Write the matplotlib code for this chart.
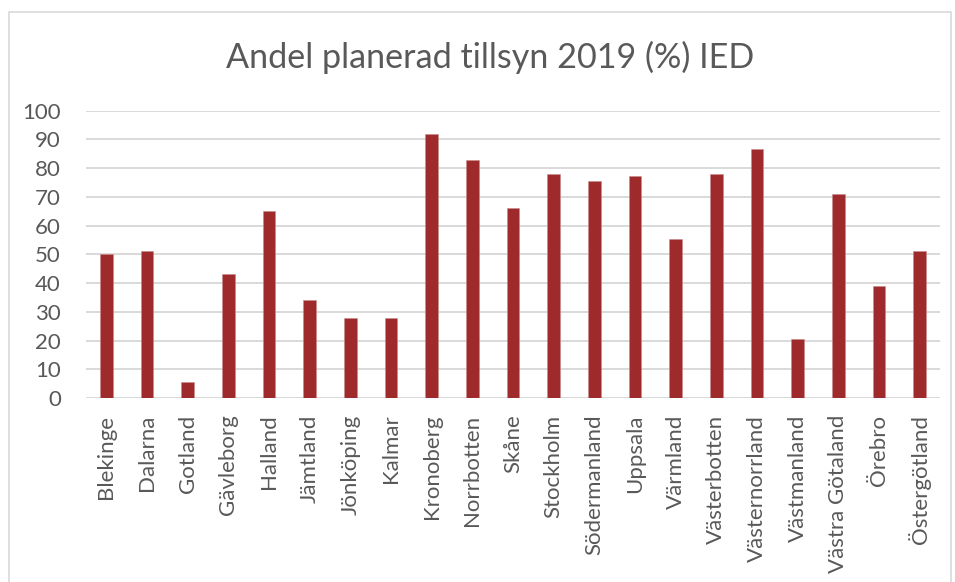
import matplotlib
matplotlib.use("Agg")
import matplotlib.pyplot as plt
from matplotlib.patches import Rectangle

categories = ["Blekinge", "Dalarna", "Gotland", "Gävleborg", "Halland", "Jämtland",
              "Jönköping", "Kalmar", "Kronoberg", "Norrbotten", "Skåne", "Stockholm",
              "Södermanland", "Uppsala", "Värmland", "Västerbotten", "Västernorrland",
              "Västmanland", "Västra Götaland", "Örebro", "Östergötland"]
values = [50, 51, 5.6, 43, 65.2, 34, 28, 28, 92, 83, 66, 77.8, 75.6, 77.1, 55.5,
          77.8, 86.8, 20.6, 71.1, 39.1, 51]
yticks = [0, 10, 20, 30, 40, 50, 60, 70, 80, 90, 100]
title = "Andel planerad tillsyn 2019 (%) IED"

plt.rcParams['font.family'] = ['Lato', 'DejaVu Sans']
txt = '#595959'

fig = plt.figure(figsize=(9.55, 5.82), dpi=100)
ax = fig.add_axes([86/955, 1-398/582, (940-86)/955, (398-110.7)/582])

x = range(len(categories))
ax.bar(x, values, width=0.31, color='#9E2A2B', zorder=3, edgecolor='#c98a8a', linewidth=0.4)
ax.set_xlim(-0.5, len(categories)-0.5)
ax.set_ylim(0, 100)
ax.set_yticks(yticks)
ax.set_yticklabels([str(t) for t in yticks])
ax.yaxis.grid(True, color='#d9d9d9', linewidth=1.4, zorder=0)
ax.set_axisbelow(True)
for s in ax.spines.values():
    s.set_visible(False)
ax.tick_params(axis='y', length=0, pad=18, labelsize=16, labelcolor=txt)
ax.tick_params(axis='x', length=0, pad=12, labelsize=16, labelcolor=txt)
ax.set_xticks(list(x))
ax.set_xticklabels(categories, rotation=90)
ax.axhline(0, color='#d9d9d9', linewidth=1.4, zorder=2)

fig.text(490/955, 1-57/582, title, ha='center', va='center', fontsize=24.6, color=txt)

fig.patches.append(Rectangle((9/955, -0.05), (951-9)/955, (582-12)/582+0.05, transform=fig.transFigure,
                             fill=False, edgecolor='#d9d9d9', linewidth=1.2))

fig.savefig('out.png', dpi=100, facecolor='white')
